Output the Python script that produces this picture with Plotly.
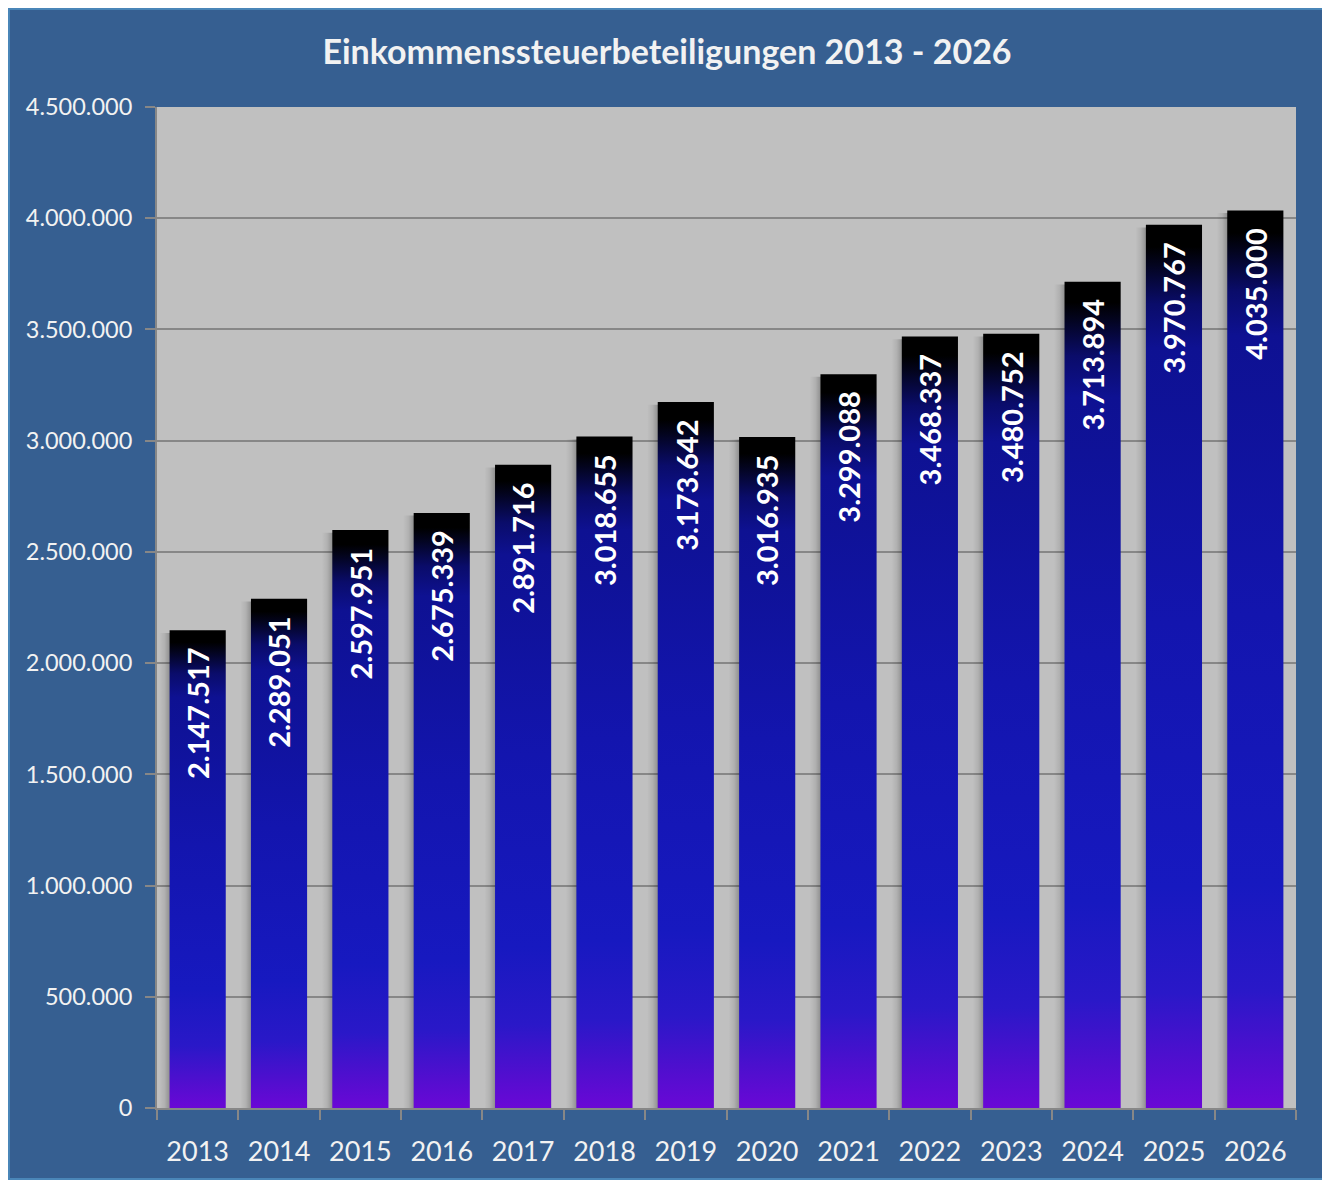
import plotly.graph_objects as go

years = [2013, 2014, 2015, 2016, 2017, 2018, 2019, 2020, 2021, 2022, 2023, 2024, 2025, 2026]
values = [2147517, 2289051, 2597951, 2675339, 2891716, 3018655, 3173642,
          3016935, 3299088, 3468337, 3480752, 3713894, 3970767, 4035000]
y_ticks = [0, 500000, 1000000, 1500000, 2000000, 2500000, 3000000, 3500000, 4000000, 4500000]
title_text = "Einkommenssteuerbeteiligungen 2013 - 2026"

BG = "#365F91"
PLOT_BG = "#C0C0C0"
GRID = "#878787"
TXT = "#F2F2F2"
FONT = "Lato"

bar_w = 0.69
bar_scale = [
    [0.0, "#6A08D6"],
    [0.05, "#520ECF"],
    [0.13, "#2A18C8"],
    [0.25, "#1719C0"],
    [0.55, "#1315AE"],
    [0.86, "#0E1192"],
    [0.91, "#0A0C6A"],
    [0.955, "#03041E"],
    [0.975, "#000000"],
    [1.0, "#000000"],
]

def fmt(v):
    return f"{v:,}".replace(",", ".")

fig = go.Figure()

# soft shadows cast to the left of each bar
sh_dx = 0.13
for yr, v in zip(years, values):
    x0 = yr - bar_w / 2 - sh_dx
    x1 = yr - bar_w / 2 + 0.02
    top = v - 12000
    fig.add_trace(go.Scatter(
        x=[x0, x1, x1, x0, x0], y=[0, 0, top, top, 0],
        mode="lines", line=dict(width=0), fill="toself",
        fillgradient=dict(type="horizontal", start=x0, stop=x1,
                          colorscale=[[0, "rgba(0,0,0,0)"], [0.45, "rgba(0,0,0,0.08)"],
                                      [0.8, "rgba(0,0,0,0.22)"], [1, "rgba(0,0,0,0.36)"]]),
        hoverinfo="skip", showlegend=False))

for yr, v in zip(years, values):
    x0 = yr - bar_w / 2
    x1 = yr + bar_w / 2
    fig.add_trace(go.Scatter(
        x=[x0, x1, x1, x0, x0], y=[0, 0, v, v, 0],
        mode="lines", line=dict(width=0), fill="toself",
        fillgradient=dict(type="vertical", start=0, stop=v, colorscale=bar_scale),
        name=str(yr), hovertemplate=f"{yr}: {fmt(v)}<extra></extra>", showlegend=False))
    fig.add_annotation(x=yr, y=v, xref="x", yref="y", text=fmt(v), textangle=-90,
                       showarrow=False, yanchor="top", xanchor="center", yshift=-15,
                       font=dict(family=FONT, size=29, color="white", weight="bold"))

W, H = 1318, 1172
L, T = 149, 99
R = W - 1288
B = H - 1100
pw, ph = W - L - R, H - T - B

# thin frame around the chart area
fig.add_shape(type="rect", xref="paper", yref="paper", layer="above",
              x0=-(L - 1) / pw, x1=(W - L - 1) / pw,
              y0=-(B - 1) / ph, y1=(H - B - 1) / ph,
              fillcolor="rgba(0,0,0,0)", line=dict(color="#4A86B8", width=2))

fig.update_layout(
    width=W, height=H,
    margin=dict(l=L, r=R, t=T, b=B),
    paper_bgcolor=BG,
    plot_bgcolor=PLOT_BG,
    separators=",.",
    title=dict(text=f"<b>{title_text}</b>", x=0.5, xref="container", xanchor="center",
               y=1 - 44 / H, yanchor="middle",
               font=dict(family=FONT, size=34, color=TXT)),
    xaxis=dict(
        range=[years[0] - 0.5, years[-1] + 0.5],
        tickmode="array", tickvals=years, ticktext=[str(y) for y in years],
        ticks="", showgrid=False, zeroline=False,
        showline=True, linecolor=GRID, linewidth=2,
        tickfont=dict(family=FONT, size=27, color=TXT),
        minor=dict(tickmode="array", tickvals=[y - 0.5 for y in years] + [years[-1] + 0.5],
                   ticks="outside", ticklen=10, tickwidth=2, tickcolor=GRID, showgrid=False),
        ticklabelstandoff=19,
        fixedrange=True,
    ),
    yaxis=dict(
        range=[0, 4500000],
        tickmode="array", tickvals=y_ticks,
        tickformat=",d",
        showgrid=True, gridcolor=GRID, gridwidth=2,
        zeroline=False,
        showline=True, linecolor=GRID, linewidth=2,
        ticks="outside", ticklen=10, tickwidth=2, tickcolor=GRID,
        tickfont=dict(family=FONT, size=23.5, color=TXT),
        ticklabelstandoff=8,
        fixedrange=True,
    ),
)

fig.write_html("out.html")
